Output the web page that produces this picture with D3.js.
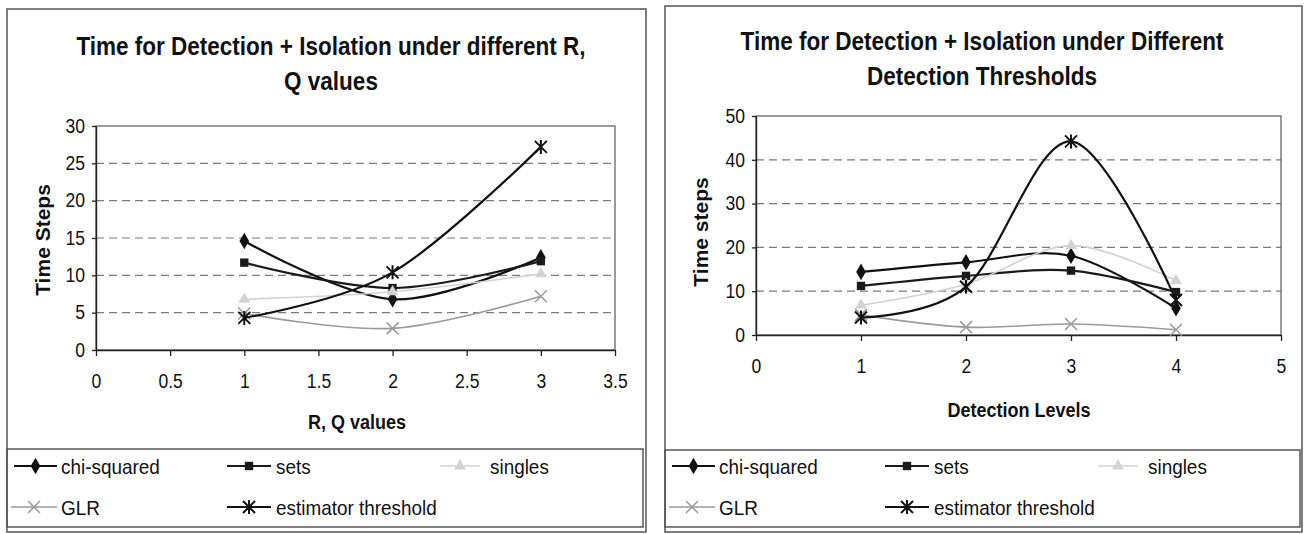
<!DOCTYPE html>
<html><head><meta charset="utf-8">
<script src="https://cdn.jsdelivr.net/npm/d3@7"></script>
<style>html,body{margin:0;padding:0;background:#fff;} svg{display:block;font-family:"Liberation Sans",Arial,sans-serif;}</style>
</head><body><svg id="c" width="1306" height="534"></svg>
<script>
// ---- data ----
const seriesNames = ["chi-squared", "sets", "singles", "GLR", "estimator threshold"];

// Left chart: R, Q values
const rqValues = [1, 2, 3];
const rqChi = [14.6, 6.8, 12.4];
const rqSets = [11.7, 8.3, 11.9];
const rqSingles = [6.8, 7.8, 10.2];
const rqGLR = [4.9, 2.9, 7.2];
const rqEstimator = [4.3, 10.4, 27.2];
const rqXTicks = [0, 0.5, 1, 1.5, 2, 2.5, 3, 3.5];
const rqYTicks = [0, 5, 10, 15, 20, 25, 30];

// Right chart: detection levels
const levels = [1, 2, 3, 4];
const lvChi = [14.4, 16.6, 18.1, 6.1];
const lvSets = [11.2, 13.5, 14.7, 9.8];
const lvSingles = [6.8, 11.6, 20.4, 12.4];
const lvGLR = [4.6, 1.8, 2.5, 1.2];
const lvEstimator = [4.0, 11.0, 44.2, 8.0];
const lvXTicks = [0, 1, 2, 3, 4, 5];
const lvYTicks = [0, 10, 20, 30, 40, 50];

const titleLeft = ["Time for Detection + Isolation under different R,", "Q values"];
const titleRight = ["Time for Detection + Isolation under Different", "Detection Thresholds"];

// ---- styles ----
const styles = [
  {color: "#111", width: 2.2, marker: "diamond"},
  {color: "#1a1a1a", width: 2.2, marker: "square"},
  {color: "#d2d2d2", width: 1.6, marker: "triangle"},
  {color: "#9a9a9a", width: 1.6, marker: "x"},
  {color: "#111", width: 2.2, marker: "asterisk"}
];

const svg = d3.select("#c");

function drawMarker(g, type, cx, cy, color) {
  if (type === "diamond") {
    g.append("path").attr("d", d3.symbol().type(d3.symbolDiamond).size(80)()).attr("transform", `translate(${cx},${cy})`).attr("fill", color);
  } else if (type === "square") {
    g.append("path").attr("d", d3.symbol().type(d3.symbolSquare).size(70)()).attr("transform", `translate(${cx},${cy})`).attr("fill", color);
  } else if (type === "triangle") {
    g.append("path").attr("d", d3.symbol().type(d3.symbolTriangle).size(60)()).attr("transform", `translate(${cx},${cy})`).attr("fill", color);
  } else if (type === "x") {
    const r = 6;
    g.append("path").attr("d", `M${cx - r},${cy - r}L${cx + r},${cy + r}M${cx - r},${cy + r}L${cx + r},${cy - r}`).attr("stroke", color).attr("stroke-width", 1.5).attr("fill", "none");
  } else if (type === "asterisk") {
    const r = 6;
    g.append("path").attr("d", `M${cx - r},${cy - r}L${cx + r},${cy + r}M${cx - r},${cy + r}L${cx + r},${cy - r}M${cx},${cy - r - 1}L${cx},${cy + r + 1}`).attr("stroke", color).attr("stroke-width", 2).attr("fill", "none");
  }
}

function drawChart(o) {
  const g = svg.append("g");
  // outer box and legend box
  g.append("rect").attr("x", o.box[0]).attr("y", o.box[1]).attr("width", o.box[2] - o.box[0]).attr("height", o.box[3] - o.box[1])
    .attr("fill", "none").attr("stroke", "#555").attr("stroke-width", 1.5);
  g.append("rect").attr("x", o.legBox[0]).attr("y", o.legBox[1]).attr("width", o.legBox[2] - o.legBox[0]).attr("height", o.legBox[3] - o.legBox[1])
    .attr("fill", "none").attr("stroke", "#555").attr("stroke-width", 1.5);

  const x = d3.scaleLinear().domain([o.xTicks[0], o.xTicks[o.xTicks.length - 1]]).range([o.plot[0], o.plot[2]]);
  const y = d3.scaleLinear().domain([o.yTicks[0], o.yTicks[o.yTicks.length - 1]]).range([o.plot[3], o.plot[1]]);

  // gridlines
  g.append("g").selectAll("line").data(o.yTicks.slice(1, -1)).join("line")
    .attr("x1", o.plot[0]).attr("x2", o.plot[2]).attr("y1", d => y(d)).attr("y2", d => y(d))
    .attr("stroke", "#7a7a7a").attr("stroke-width", 1.2).attr("stroke-dasharray", "8,5");
  // plot border
  g.append("rect").attr("x", o.plot[0]).attr("y", o.plot[1]).attr("width", o.plot[2] - o.plot[0]).attr("height", o.plot[3] - o.plot[1])
    .attr("fill", "none").attr("stroke", "#666").attr("stroke-width", 1.3);

  // axes
  const ya = g.append("g").attr("transform", `translate(${o.plot[0]},0)`)
    .call(d3.axisLeft(y).tickValues(o.yTicks).tickSize(4).tickSizeOuter(0).tickPadding(7).tickFormat(d => String(d)));
  const xa = g.append("g").attr("transform", `translate(0,${o.plot[3]})`)
    .call(d3.axisBottom(x).tickValues(o.xTicks).tickSize(6).tickSizeOuter(0).tickPadding(18).tickFormat(d => String(d)));
  [ya, xa].forEach(a => {
    a.select(".domain").attr("stroke", "#222").attr("stroke-width", 1.4);
    a.selectAll(".tick line").attr("stroke", "#222").attr("stroke-width", 1.3);
    a.selectAll("text").attr("font-size", 19.5).attr("fill", "#111").attr("font-family", '"Liberation Sans",Arial,sans-serif').classed("n", true);
  });

  // series
  const line = d3.line().x(d => x(d[0])).y(d => y(d[1])).curve(d3.curveCatmullRom.alpha(0));
  o.series.forEach((vals, i) => {
    const pts = o.xs.map((xv, j) => [xv, vals[j]]);
    const st = styles[i];
    g.append("path").attr("d", line(pts)).attr("fill", "none").attr("stroke", st.color).attr("stroke-width", st.width);
    pts.forEach(p => drawMarker(g, st.marker, x(p[0]), y(p[1]), st.color));
  });

  // titles
  o.title.forEach((t, i) => {
    g.append("text").attr("x", o.titleX).attr("y", o.titleY + i * o.titleGap).attr("text-anchor", "middle")
      .attr("font-size", 25).attr("font-weight", "bold").attr("fill", "#111").classed("n", true).text(t);
  });
  // axis titles
  g.append("text").attr("x", o.xLabelPos[0]).attr("y", o.xLabelPos[1]).attr("text-anchor", "middle").attr("dominant-baseline", "central")
    .attr("font-size", 20).attr("font-weight", "bold").attr("fill", "#111").classed("n", true).text(o.xLabel);
  g.append("text").attr("transform", `translate(${o.yLabelPos[0]},${o.yLabelPos[1]}) rotate(-90)`).attr("text-anchor", "middle").attr("dominant-baseline", "central")
    .attr("font-size", 21).attr("font-weight", "bold").attr("fill", "#111").text(o.yLabel);

  // legend
  const lx = o.legBox[0];
  const legPos = [
    {x1: 7, x2: 50, tx: 54, row: 0},
    {x1: 220, x2: 264, tx: 269, row: 0},
    {x1: 433, x2: 473, tx: 483, row: 0},
    {x1: 4, x2: 50, tx: 54, row: 1},
    {x1: 220, x2: 264, tx: 269, row: 1}
  ];
  seriesNames.forEach((name, i) => {
    const p = legPos[i], st = styles[i];
    const ly = o.legRows[p.row];
    g.append("line").attr("x1", lx + p.x1).attr("x2", lx + p.x2).attr("y1", ly).attr("y2", ly).attr("stroke", st.color).attr("stroke-width", st.width);
    drawMarker(g, st.marker, lx + (p.x1 + p.x2) / 2, ly, st.color);
    g.append("text").attr("x", lx + p.tx).attr("y", ly).attr("dominant-baseline", "central").attr("font-size", 21)
      .attr("fill", "#111").classed("n", true).text(name);
  });
}

drawChart({
  box: [7, 9, 646, 532], legBox: [7, 449, 643, 527],
  plot: [96, 126, 615, 350],
  xTicks: rqXTicks, yTicks: rqYTicks, xs: rqValues,
  series: [rqChi, rqSets, rqSingles, rqGLR, rqEstimator],
  title: titleLeft, titleX: 331, titleY: 55, titleGap: 35,
  xLabel: "R, Q values", xLabelPos: [357, 422],
  yLabel: "Time Steps", yLabelPos: [42, 240],
  legRows: [466, 507]
});
drawChart({
  box: [665, 6, 1302, 532], legBox: [665, 450, 1300, 527],
  plot: [756, 116, 1281, 335],
  xTicks: lvXTicks, yTicks: lvYTicks, xs: levels,
  series: [lvChi, lvSets, lvSingles, lvGLR, lvEstimator],
  title: titleRight, titleX: 982, titleY: 50, titleGap: 35,
  xLabel: "Detection Levels", xLabelPos: [1019, 410],
  yLabel: "Time steps", yLabelPos: [700, 232],
  legRows: [466, 507]
});

// narrow the typeface horizontally (reference uses a condensed face)
svg.selectAll("text.n").each(function () {
  const w = this.getComputedTextLength();
  d3.select(this).attr("textLength", w * 0.9).attr("lengthAdjust", "spacingAndGlyphs");
});
</script></body></html>
